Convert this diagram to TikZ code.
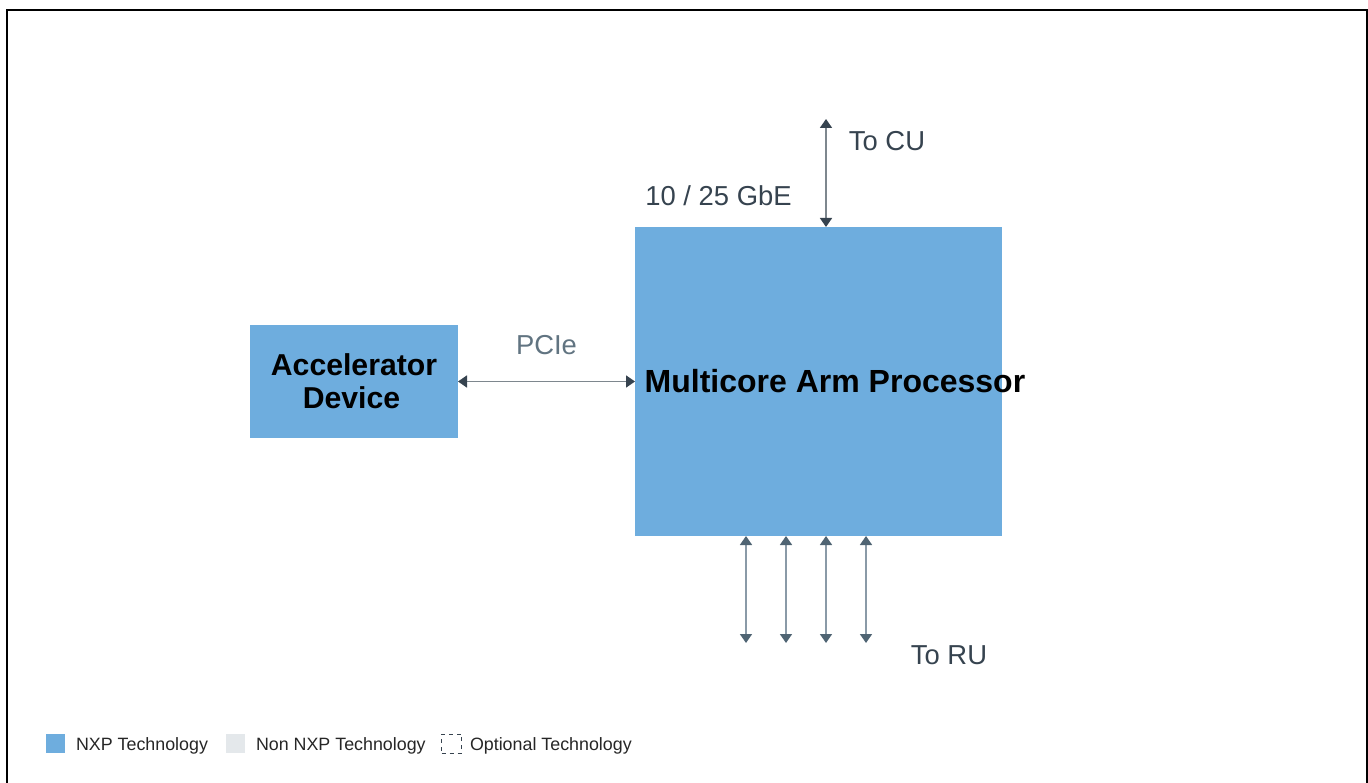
\documentclass[tikz,border=0pt]{standalone}
\usepackage{fontspec}
\setmainfont{Liberation Sans}
\usetikzlibrary{arrows.meta,calc}
\definecolor{nxpblue}{HTML}{6EADDE}
\definecolor{nonnxp}{HTML}{E4E8EB}
\definecolor{darkslate}{HTML}{36434F}
\definecolor{midslate}{HTML}{4F6473}
\definecolor{linegray}{HTML}{7E878E}
\definecolor{lineslate}{HTML}{8A9AA7}
\tikzset{
  x=1pt,y=-1pt,
  blockbox/.style={fill=nxpblue,draw=none,inner sep=0pt,outer sep=0pt,align=center,font=\fontsize{30.2}{33}\selectfont\bfseries,text=black},
  labeltext/.style={inner sep=0pt,outer sep=0pt,anchor=base,font=\fontsize{27.4}{30}\selectfont,text=darkslate},
  legendtext/.style={inner sep=0pt,outer sep=0pt,anchor=base west,font=\fontsize{17.85}{20}\selectfont,text=black!85},
  legendbox/.style={minimum width=19pt,minimum height=19pt,inner sep=0pt,outer sep=0pt},
  darklink/.style={draw=linegray,line width=1.7pt,{Triangle[length=9pt,width=12pt,color=darkslate]}-{Triangle[length=9pt,width=12pt,color=darkslate]}},
  slatelink/.style={draw=lineslate,line width=1.7pt,{Triangle[length=9pt,width=12pt,color=midslate]}-{Triangle[length=9pt,width=12pt,color=midslate]}},
}
\begin{document}
\begin{tikzpicture}
\useasboundingbox (0,0) rectangle (1368,783);
\draw[black,line width=2pt] (7,783) -- (7,10) -- (1367,10) -- (1367,783);

\node[blockbox,minimum width=367pt,minimum height=309pt] (proc) at (818.5,381.5) {};
\node[inner sep=0pt,font=\fontsize{32}{34}\selectfont\bfseries,anchor=base] (proclabel) at (835,392) {Multicore Arm Processor};
\node[blockbox,minimum width=208pt,minimum height=113pt] (acc) at (354,381.5) {Accelerator\\Device\hspace*{5pt}};

\draw[darklink] (acc.east) -- (proc.west);

\coordinate (cu) at (826,119);
\draw[darklink] (cu) -- (cu |- proc.north);

\coordinate (ru1) at (746,643);
\coordinate (ru2) at (786,643);
\coordinate (ru3) at (826,643);
\coordinate (ru4) at (866,643);
\draw[slatelink] (ru1 |- proc.south) -- (ru1);
\draw[slatelink] (ru2 |- proc.south) -- (ru2);
\draw[slatelink] (ru3 |- proc.south) -- (ru3);
\draw[slatelink] (ru4 |- proc.south) -- (ru4);

\node[labeltext,text=midslate!90] (pcie) at (546.5,355) {PCIe};
\node[labeltext] (tocu) at (887,151) {To CU};
\node[labeltext] (gbe) at (718.5,206) {10 / 25 GbE};
\node[labeltext] (toru) at (949,664) {To RU};

\node[legendbox,fill=nxpblue] (l1) at (55.5,743.5) {};
\node[legendtext] (t1) at (76,750) {NXP Technology};
\node[legendbox,fill=nonnxp] (l2) at (235.5,743.5) {};
\node[legendtext] (t2) at (256,750) {Non NXP Technology};
\node[legendbox,draw=darkslate,line width=1pt,dash pattern=on 4pt off 4pt,minimum width=20pt,minimum height=19pt] (l3) at (451.5,743.5) {};
\node[legendtext] (t3) at (470,750) {Optional Technology};
\end{tikzpicture}
\end{document}
